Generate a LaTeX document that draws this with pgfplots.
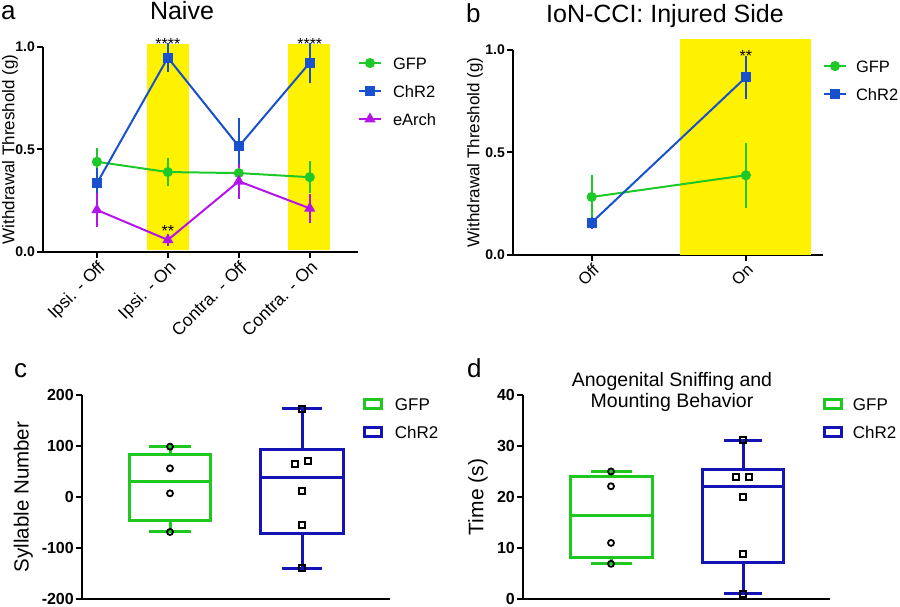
\documentclass[border=0pt]{standalone}
\usepackage{pgfplots}
\pgfplotsset{compat=1.18}
\usepgfplotslibrary{statistics}
\usepackage{fontspec}
\setmainfont{Liberation Sans}
\definecolor{gfp}{RGB}{30,200,40}
\definecolor{chr}{RGB}{25,80,205}
\definecolor{earch}{RGB}{180,20,235}
\definecolor{gfpbox}{RGB}{30,200,30}
\definecolor{chrbox}{RGB}{20,20,180}
\newcommand{\fs}[1]{\fontsize{#1}{#1}\selectfont}
\pgfplotsset{
  base/.style={
    scale only axis, clip=false,
    axis lines=left, axis line style={line width=2pt,-},
    every tick/.style={black, line width=2pt},
    tick align=outside, major tick length=6pt,
    yticklabel style={font=\bfseries\fs{14}, inner sep=2pt},
    ylabel style={font=\fs{17}, at={(rel axis cs:0,0.5)}, anchor=south, inner sep=0pt},
    legend style={draw=none, fill=none, inner sep=0pt, outer sep=0pt, anchor=north west,
      nodes={inner sep=0pt, outer sep=0pt, text depth=0pt, text height=12pt, anchor=base west},
      cells={anchor=base west}, row sep=16pt, column sep=11pt, font=\fs{16.5}},
  },
  lineleg/.style={legend image code/.code={\draw[mark repeat=2,mark phase=2] plot coordinates {(0pt,6pt)(11pt,6pt)(22pt,6pt)};}},
  boxleg/.style={legend image code/.code={\draw[line width=3pt] (1.5pt,1.5pt) rectangle (18.5pt,10.5pt);}},
  ser/.style={color=#1, line width=2pt, mark options={solid, fill=#1}, lineleg,
     /pgfplots/error bars/y dir=both, /pgfplots/error bars/y explicit,
     /pgfplots/error bars/error bar style={line width=2pt, color=#1},
     /pgfplots/error bars/error mark=-,
     /pgfplots/error bars/error mark options={mark size=4pt, line width=2pt, color=#1}},
  dots/.style={only marks, black, mark=#1, mark size=3pt, mark options={line width=1.8pt, fill=white}, forget plot},
}
\begin{document}
\begin{tikzpicture}
\path[use as bounding box] (0pt,0pt) rectangle (900pt,606pt);

% ---------- panel a ----------
\begin{axis}[base, at={(43pt,354pt)}, anchor=south west, width=315pt, height=205pt,
  xmin=-0.76, xmax=3.68, ymin=0, ymax=1,
  xtick={0,1,2,3}, xticklabels={Ipsi. - Off, Ipsi. - On, Contra. - Off, Contra. - On},
  xticklabel style={font=\fs{17.5}, rotate=45, anchor=north east, inner sep=1pt},
  ytick={0,0.5,1}, yticklabels={0.0,0.5,1.0},
  ylabel={Withdrawal Threshold (g)}, ylabel style={yshift=25pt},
  legend style={at={(1.0,0.951)}}]
\addplot[fill=yellow, draw=none, forget plot] coordinates {(0.7,0.01) (1.3,0.01) (1.3,1.015) (0.7,1.015)} -- cycle;
\addplot[fill=yellow, draw=none, forget plot] coordinates {(2.69,0.01) (3.28,0.01) (3.28,1.015) (2.69,1.015)} -- cycle;
\addplot[ser=gfp, mark=*, mark size=4pt] coordinates {(0,0.44) +- (0,0.05) (1,0.39) +- (0,0.05) (2,0.385) +- (0,0.065) (3,0.365) +- (0,0.06)};
\addlegendentry{GFP}
\addplot[ser=chr, mark=square*, mark size=4pt] coordinates {(0,0.335) +- (0,0.055) (1,0.948) +- (0,0.05) (2,0.515) +- (0,0.117) (3,0.923) +- (0,0.077)};
\addlegendentry{ChR2}
\addplot[ser=earch, mark=triangle*, mark size=4.5pt] coordinates {(0,0.205) +- (0,0.062) (1,0.059) +- (0,0.01) (2,0.345) +- (0,0.067) (3,0.213) +- (0,0.05)};
\addlegendentry{eArch}
\node[font=\fs{16}, anchor=base] at (axis cs:1,0.99) {****};
\node[font=\fs{16}, anchor=base] at (axis cs:3,0.99) {****};
\node[font=\fs{16}, anchor=base] at (axis cs:1,0.078) {**};
\end{axis}

% ---------- panel b ----------
\begin{axis}[base, at={(513pt,351pt)}, anchor=south west, width=310pt, height=205pt,
  xmin=-0.51, xmax=1.5, ymin=0, ymax=1,
  xtick={0,1}, xticklabels={Off, On},
  xticklabel style={font=\fs{16.5}, rotate=45, anchor=north east, inner sep=1pt},
  ytick={0,0.5,1}, yticklabels={0.0,0.5,1.0},
  ylabel={Withdrawal Threshold (g)}, ylabel style={yshift=30pt},
  legend style={at={(1.0,0.951)}, column sep=9pt}]
\addplot[fill=yellow, draw=none, forget plot] coordinates {(0.57,0) (1.42,0) (1.42,1.054) (0.57,1.054)} -- cycle;
\addplot[ser=gfp, mark=*, mark size=4pt] coordinates {(0,0.283) +- (0,0.088) (1,0.389) +- (0,0.139)};
\addlegendentry{GFP}
\addplot[ser=chr, mark=square*, mark size=4pt] coordinates {(0,0.158) +- (0,0.01) (1,0.867) +- (0,0.085)};
\addlegendentry{ChR2}
\node[font=\fs{16}, anchor=base] at (axis cs:1,0.946) {**};
\end{axis}

% ---------- panel c ----------
\begin{axis}[base, at={(82pt,7pt)}, anchor=south west, width=308pt, height=204pt,
  xmin=0, xmax=308, ymin=-200, ymax=200, xtick=\empty,
  ytick={-200,-100,0,100,200}, yticklabels={-200,-100,0,100,200},
  yticklabel style={font=\bfseries\fs{16}},
  ylabel={Syllable Number}, ylabel style={font=\fs{20.5}, yshift=49pt},
  legend style={at={(0.912,0.985)}, column sep=12pt, font=\fs{17}}]
\addplot[boxleg, draw=gfpbox, line width=3pt, boxplot prepared={draw direction=y, draw position=88,
  lower whisker=-68.6, lower quartile=-46.4, median=30.7, upper quartile=84.3, upper whisker=98.7,
  box extend=81, whisker extend=41}] coordinates {};
\addlegendentry{GFP}
\addplot[boxleg, draw=chrbox, line width=3pt, boxplot prepared={draw direction=y, draw position=220,
  lower whisker=-139.9, lower quartile=-72.5, median=38.6, upper quartile=93.5, upper whisker=173.2,
  box extend=83, whisker extend=40}] coordinates {};
\addlegendentry{ChR2}
\addplot[dots=o] coordinates {(88,98.7) (88,56.2) (88,7.2) (88,-68.6)};
\addplot[dots=square] coordinates {(220,173.2) (213,65.4) (226,71.2) (220,11.8) (220,-54.9) (220,-139.9)};
\end{axis}

% ---------- panel d ----------
\begin{axis}[base, at={(523pt,7pt)}, anchor=south west, width=307pt, height=204pt,
  xmin=0, xmax=307, ymin=0, ymax=40, xtick=\empty,
  ytick={0,10,20,30,40}, yticklabels={0,10,20,30,40},
  yticklabel style={font=\bfseries\fs{16}},
  ylabel={Time (s)}, ylabel style={font=\fs{21}, yshift=35pt},
  legend style={at={(0.977,0.985)}, column sep=10pt, font=\fs{17}}]
\addplot[boxleg, draw=gfpbox, line width=3pt, boxplot prepared={draw direction=y, draw position=88,
  lower whisker=6.9, lower quartile=8.2, median=16.4, upper quartile=24.0, upper whisker=25.0,
  box extend=82, whisker extend=41}] coordinates {};
\addlegendentry{GFP}
\addplot[boxleg, draw=chrbox, line width=3pt, boxplot prepared={draw direction=y, draw position=220,
  lower whisker=1.0, lower quartile=7.2, median=22.1, upper quartile=25.4, upper whisker=31.1,
  box extend=81, whisker extend=38}] coordinates {};
\addlegendentry{ChR2}
\addplot[dots=o] coordinates {(88,25.0) (88,22.1) (88,11.0) (88,6.9)};
\addplot[dots=square] coordinates {(220,31.1) (213,24.0) (226,24.0) (220,20.0) (220,8.9) (220,1.0)};
\end{axis}

% ---------- titles and panel letters ----------
\node[font=\fs{26}, anchor=base west, inner sep=0pt] at (1pt,586pt) {a};
\node[font=\fs{25}, anchor=base, inner sep=0pt] at (182pt,586pt) {Naive};
\node[font=\fs{26}, anchor=base west, inner sep=0pt] at (466pt,583pt) {b};
\node[font=\fs{25}, anchor=base, inner sep=0pt] at (665pt,583pt) {IoN-CCI: Injured Side};
\node[font=\fs{26}, anchor=base west, inner sep=0pt] at (14pt,229pt) {c};
\node[font=\fs{26}, anchor=base west, inner sep=0pt] at (467pt,229pt) {d};
\node[font=\fs{19.5}, anchor=base, inner sep=0pt] at (672pt,219pt) {Anogenital Sniffing and};
\node[font=\fs{19.5}, anchor=base, inner sep=0pt] at (672pt,199pt) {Mounting Behavior};
\end{tikzpicture}
\end{document}
